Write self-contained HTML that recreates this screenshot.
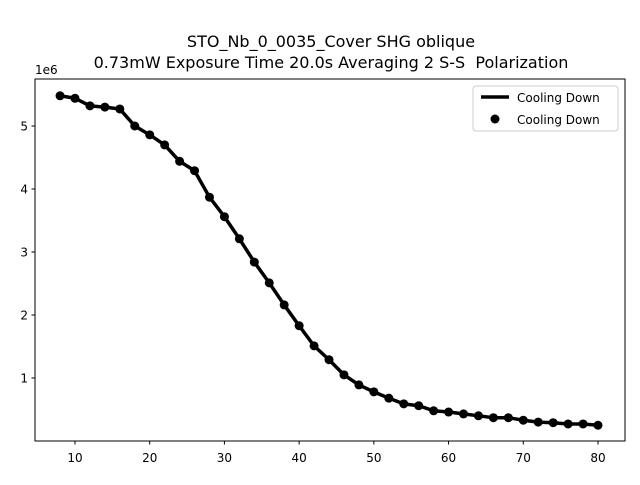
<!DOCTYPE html>
<html><head><meta charset="utf-8"><style>
body{margin:0;background:#fff;font-family:"Liberation Sans","DejaVu Sans",sans-serif;}
svg text{font-family:"DejaVu Sans","Liberation Sans",sans-serif;white-space:pre;}
</style></head><body>
<svg id="chart" width="640" height="480" xmlns="http://www.w3.org/2000/svg">
<text x="331" y="47" font-size="16" text-anchor="middle">STO_Nb_0_0035_Cover SHG oblique</text>
<text x="331" y="68" font-size="16" text-anchor="middle" xml:space="preserve">0.73mW Exposure Time 20.0s Averaging 2 S-S  Polarization</text>
<rect x="35" y="79" width="590" height="362" fill="none" stroke="#000" stroke-width="1"/>
<g id="xt"></g><g id="yt"></g>
<text x="35" y="74" font-size="12">1e6</text>
<polyline id="line" fill="none" stroke="#000" stroke-width="3.5" stroke-linejoin="round"/>
<g id="pts"></g>
<g>
<rect x="473" y="86" width="145" height="45" rx="3" fill="#fff" stroke="#ccc"/>
<line x1="481" y1="97" x2="509" y2="97" stroke="#000" stroke-width="3.5"/>
<text x="517" y="102" font-size="12">Cooling Down</text>
<circle cx="495" cy="119" r="4.5" fill="#000"/>
<text x="517" y="124" font-size="12">Cooling Down</text>
</g>
</svg>
<script>
const xValues=[8,10,12,14,16,18,20,22,24,26,28,30,32,34,36,38,40,42,44,46,48,50,52,54,56,58,60,62,64,66,68,70,72,74,76,78,80];
const yValues=[5.48,5.44,5.32,5.30,5.27,5.0,4.86,4.70,4.44,4.29,3.87,3.56,3.21,2.84,2.51,2.16,1.83,1.51,1.29,1.05,0.89,0.78,0.68,0.59,0.56,0.48,0.46,0.43,0.40,0.37,0.37,0.33,0.30,0.29,0.27,0.27,0.25];
const xTicks=[10,20,30,40,50,60,70,80];
const yTicks=[1,2,3,4,5];
const NS="http://www.w3.org/2000/svg";
const sx=v=>75+(v-10)*(523/70);
const sy=v=>441-v*63;
function mk(t,a){const e=document.createElementNS(NS,t);for(const k in a)e.setAttribute(k,a[k]);return e;}
const xt=document.getElementById('xt'),yt=document.getElementById('yt');
xTicks.forEach(v=>{
 const l=mk('line',{x1:sx(v),x2:sx(v),y1:441,y2:444.5,stroke:'#000'});
 
 
 xt.appendChild(l);
 const t=mk('text',{x:sx(v),y:462,'font-size':12,'text-anchor':'middle'});t.textContent=v;
 
 
 xt.appendChild(t);
});
yTicks.forEach(v=>{
 const l=mk('line',{x1:31.5,x2:35,y1:sy(v),y2:sy(v),stroke:'#000'});
 
 
 yt.appendChild(l);
 const t=mk('text',{x:28,y:sy(v)+4.5,'font-size':12,'text-anchor':'end'});t.textContent=v;
 
 
 yt.appendChild(t);
});
document.getElementById('line').setAttribute('points',xValues.map((x,i)=>sx(x)+','+sy(yValues[i])).join(' '));
const pts=document.getElementById('pts');
xValues.forEach((x,i)=>{
 const c=mk('circle',{cx:sx(x),cy:sy(yValues[i]),r:4.5,fill:'#000'});
 
 
 pts.appendChild(c);
});
</script>
</body></html>
